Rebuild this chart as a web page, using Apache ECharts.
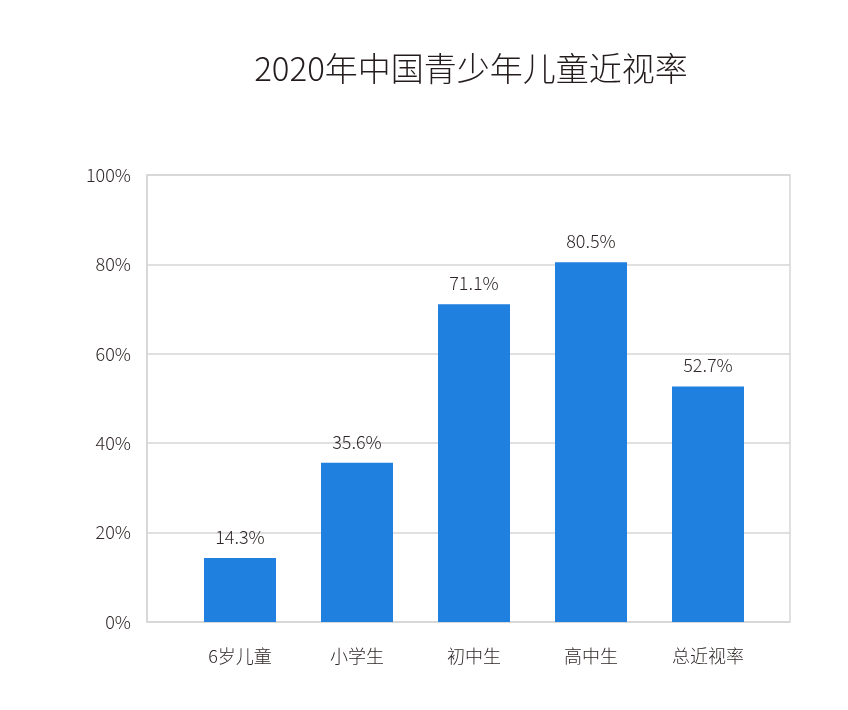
<!DOCTYPE html>
<html><head><meta charset="utf-8">
<script src="https://cdn.jsdelivr.net/npm/echarts@6/dist/echarts.min.js"></script>
<style>html,body{margin:0;padding:0;background:#fff}#c{width:848px;height:710px}</style>
</head><body><div id="c"></div>
<script>
const categories = ['6岁儿童', '小学生', '初中生', '高中生', '总近视率'];
const values = [14.3, 35.6, 71.1, 80.5, 52.7];
const yTicks = [0, 20, 40, 60, 80, 100];
const titleText = '2020年中国青少年儿童近视率';

const font = '"Noto Sans CJK SC", "Noto Sans", sans-serif';
const textColor = '#2f2727';
const chart = echarts.init(document.getElementById('c'));
chart.setOption({
  backgroundColor: '#fff',
  animation: false,
  title: {
    text: titleText, left: 466, top: 47, textAlign: 'center',
    textStyle: { fontFamily: font, fontSize: 33, fontWeight: 300, color: '#241c1c' }
  },
  grid: [
    { left: 147, right: 58, top: 175, bottom: 88, show: true, borderColor: '#d6d6d6', borderWidth: 1.5, containLabel: false },
    { left: 181.5, right: 81.5, top: 175, bottom: 88, containLabel: false }
  ],
  xAxis: [
    { gridIndex: 0, type: 'category', data: categories, show: false },
    { gridIndex: 1, type: 'category', data: categories,
      axisLine: { show: false }, axisTick: { show: false },
      axisLabel: { margin: 25, fontFamily: font, fontSize: 18, fontWeight: 300, color: textColor } }
  ],
  yAxis: [
    { gridIndex: 0, type: 'value', min: yTicks[0], max: yTicks[yTicks.length - 1], interval: 20,
      axisLine: { show: true, lineStyle: { color: '#d6d6d6', width: 1.5 } }, axisTick: { show: false },
      splitLine: { show: true, lineStyle: { color: '#d6d6d6', width: 1.5 } },
      axisLabel: { margin: 16, fontFamily: font, fontSize: 18, fontWeight: 300, color: textColor, formatter: '{value}%' } },
    { gridIndex: 1, type: 'value', min: 0, max: 100, interval: 20, show: false }
  ],
  series: [{
    type: 'bar', xAxisIndex: 1, yAxisIndex: 1, data: values, barWidth: 72,
    itemStyle: { color: '#1f80e0' },
    label: { show: true, position: 'top', distance: 12, formatter: '{c}%',
      fontFamily: font, fontSize: 18, fontWeight: 300, color: textColor }
  }]
});
</script></body></html>
